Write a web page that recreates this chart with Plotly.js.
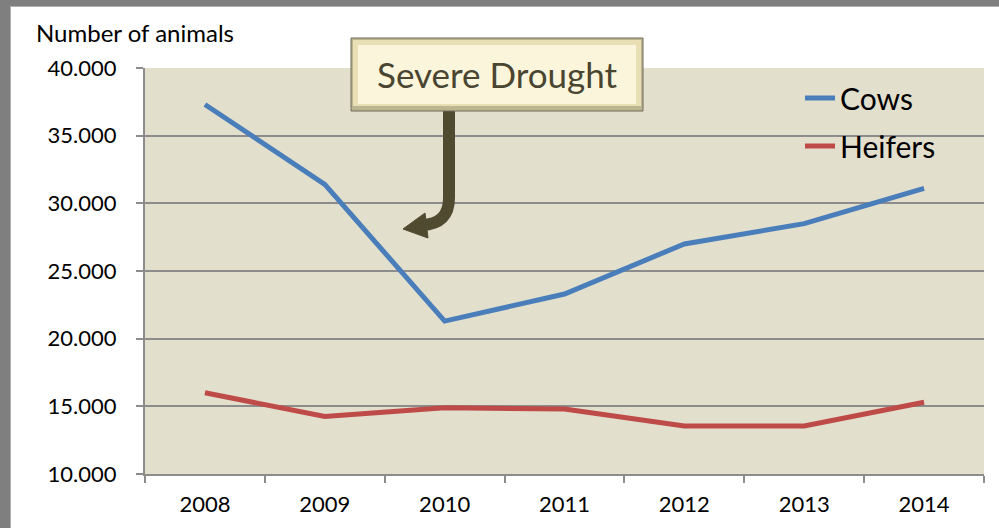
<!DOCTYPE html>
<html><head><meta charset="utf-8">
<script src="https://cdn.plot.ly/plotly-3.0.1.min.js"></script>
<style>
html,body{margin:0;padding:0;background:#fff;overflow:hidden;}
#wrap{position:relative;width:999px;height:528px;}
#chart{position:absolute;left:0;top:0;width:999px;height:528px;}
.fr{position:absolute;pointer-events:none;}
</style></head>
<body>
<div id="wrap">
<div id="chart"></div>
<div class="fr" style="left:0;top:0;width:999px;height:6px;background:#7f7f7f;"></div>
<div class="fr" style="left:0;top:6px;width:999px;height:1px;background:#b0b0b0;"></div>
<div class="fr" style="left:0;top:0;width:10px;height:528px;background:#7f7f7f;"></div>
<div class="fr" style="left:10px;top:7px;width:1px;height:521px;background:#b0b0b0;"></div>
</div>
<script>
const years = ['2008','2009','2010','2011','2012','2013','2014'];
const cows = [37300, 31400, 21300, 23300, 27000, 28500, 31100];
const heifers = [16000, 14250, 14900, 14800, 13550, 13550, 15300];
const seriesNames = ['Cows','Heifers'];
const yTitle = 'Number of animals';
const calloutText = 'Severe Drought';

const W = 999, H = 528;
const M = {l:145, r:15, t:68, b:54};
const pw = W - M.l - M.r, ph = H - M.t - M.b;
const px = x => (x - M.l) / pw;
const py = y => (H - M.b - y) / ph;
const FONT = 'Lato, "Open Sans", sans-serif';

const traces = [
  {x: years, y: cows, name: seriesNames[0], type:'scatter', mode:'lines',
   line:{color:'#4a7ebb', width:5}, legendgroup:'a'},
  {x: years, y: heifers, name: seriesNames[1], type:'scatter', mode:'lines',
   line:{color:'#be4b48', width:5}, legendgroup:'b'}
];

const arrowPath = 'M ' + px(449) + ',' + py(111) + ' L ' + px(449) + ',' + py(198) +
  ' Q ' + px(449) + ',' + py(224) + ' ' + px(422) + ',' + py(225);
const headPath = 'M ' + px(403) + ',' + py(229) + ' L ' + px(425) + ',' + py(213) +
  ' L ' + px(428) + ',' + py(238) + ' Z';

const layout = {
  width: W, height: H,
  margin: M,
  paper_bgcolor: 'rgba(0,0,0,0)',
  plot_bgcolor: '#e3dfcd',
  separators: ',.',
  font: {family: FONT, size: 22, color: '#000'},
  showlegend: true,
  legend: {x: px(800), y: py(72), xanchor:'left', yanchor:'top', bgcolor:'rgba(0,0,0,0)',
           font:{size:30, color:'#000'}, traceorder:'grouped', tracegroupgap: 6},
  xaxis: {type:'category', range:[-0.5, 6.5], tickson:'boundaries', ticks:'outside', ticklen:7, tickwidth:2,
          tickcolor:'#8c8c8c', showline:true, linecolor:'#8c8c8c', linewidth:2,
          showgrid:false, tickfont:{size:22}, ticklabelstandoff: 10, zeroline:false},
  yaxis: {range:[10000, 40000], tickvals:[10000,15000,20000,25000,30000,35000,40000],
          tickformat:',.0f', ticks:'outside', ticklen:7, tickwidth:2, tickcolor:'#8c8c8c',
          showline:true, linecolor:'#8c8c8c', linewidth:2, showgrid:true,
          gridcolor:'#8c8c8c', gridwidth:2, zeroline:false, tickfont:{size:22},
          ticklabelstandoff: 15},
  shapes: [
    {type:'path', xref:'paper', yref:'paper', path: arrowPath,
     line:{color:'#4f4a30', width:12}, layer:'above'},
    {type:'path', xref:'paper', yref:'paper', path: headPath,
     fillcolor:'#4f4a30', line:{color:'#4f4a30', width:1}, layer:'above'},
    {type:'rect', xref:'paper', yref:'paper', x0:px(351), x1:px(643), y0:py(111), y1:py(38),
     fillcolor:'#bdb58f', line:{color:'#6e6a58', width:1}, layer:'above'},
    {type:'rect', xref:'paper', yref:'paper', x0:px(353), x1:px(641), y0:py(106), y1:py(40),
     fillcolor:'#e8dfb5', line:{width:0}, layer:'above'},
    {type:'rect', xref:'paper', yref:'paper', x0:px(358), x1:px(636), y0:py(104), y1:py(45),
     fillcolor:'#fbf5dc', line:{width:0}, layer:'above'}
  ],
  annotations: [
    {text: yTitle, xref:'paper', yref:'paper', x: px(34), y: py(33), xanchor:'left', yanchor:'middle',
     showarrow:false, font:{size:24, color:'#000'}},
    {text: calloutText, xref:'paper', yref:'paper', x: px(497), y: py(74), xanchor:'center', yanchor:'middle',
     showarrow:false, font:{size:35, color:'#4a4530'}}
  ]
};

Plotly.newPlot('chart', traces, layout, {displayModeBar:false, staticPlot:true});
</script>
</body></html>
